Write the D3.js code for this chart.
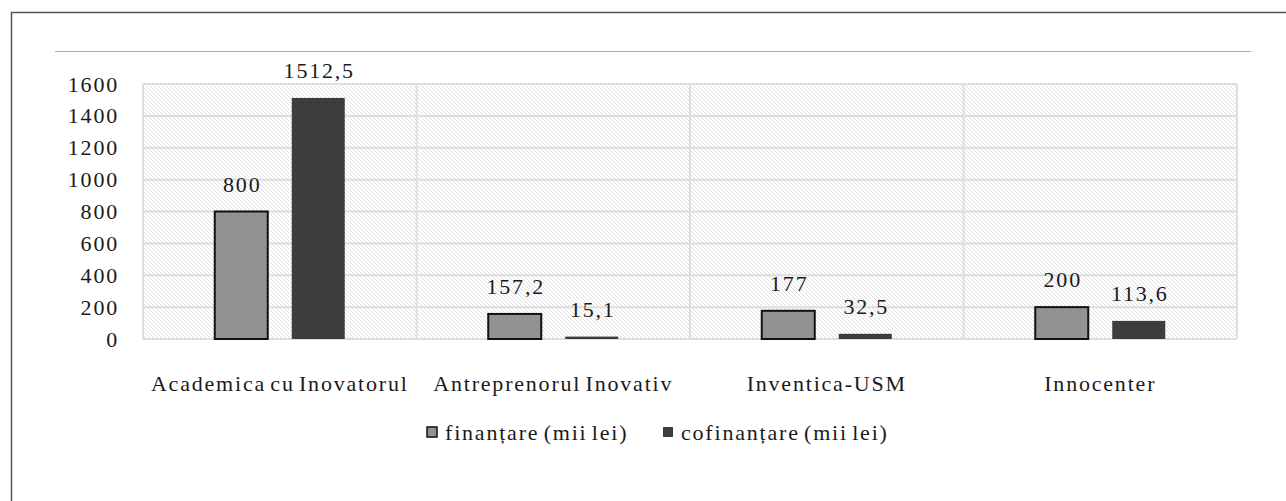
<!DOCTYPE html>
<meta charset="utf-8">
<head>
<style type='text/css'>
  body {
    margin: 0;
    background: #fff;
  }
  text {
    font-family: 'Liberation Serif', 'DejaVu Serif', serif;
    fill: #1a1a1a;
    letter-spacing: 1.8px;
    word-spacing: -3px;
  }
  .grid line {
    stroke: #dedede;
    stroke-width: 2;
  }
  .axis .domain, .axis line {
    display: none;
  }
</style>
</head>
<body>
<svg id="chart" width="1286" height="501"></svg>
<script src="https://d3js.org/d3.v7.min.js"></script>
<script>
// chart data
var categories = ["Academica cu Inovatorul", "Antreprenorul Inovativ", "Inventica-USM", "Innocenter"];
var finantare = [800, 157.2, 177, 200];
var cofinantare = [1512.5, 15.1, 32.5, 113.6];
var seriesNames = ["finanțare (mii lei)", "cofinanțare (mii lei)"];
var yTicks = [0, 200, 400, 600, 800, 1000, 1200, 1400, 1600];

var svg = d3.select("#chart");

// plot area
var plotL = 143, plotR = 1237, plotT = 84, plotB = 339;

var x = d3.scaleBand()
    .domain(categories)
    .range([plotL, plotR]);

var y = d3.scaleLinear()
    .domain([0, 1600])
    .range([plotB, plotT]);

var colors = ["#929292", "#3d3d3d"];
var barW = 53, gap = 24;

// hatch pattern for plot background
var defs = svg.append("defs");
var pat = defs.append("pattern")
    .attr("id", "hatch")
    .attr("patternUnits", "userSpaceOnUse")
    .attr("width", 4)
    .attr("height", 4);
pat.append("rect").attr("width", 4).attr("height", 4).attr("fill", "#fff");
pat.append("path")
    .attr("d", "M-1,-1 L5,5 M-1,3 L1,5 M3,-1 L5,1")
    .attr("stroke", "#dfdfdf")
    .attr("stroke-width", 1);

// outer frame
svg.append("rect")
    .attr("x", 11.5).attr("y", 12.5)
    .attr("width", 1300).attr("height", 520)
    .attr("fill", "none")
    .attr("stroke", "#555")
    .attr("stroke-width", 1.5);

// thin line near top
svg.append("line")
    .attr("x1", 55).attr("x2", 1251)
    .attr("y1", 51.5).attr("y2", 51.5)
    .attr("stroke", "#aaa")
    .attr("stroke-width", 1);

svg.append("rect")
    .attr("x", plotL).attr("y", plotT)
    .attr("width", plotR - plotL).attr("height", plotB - plotT)
    .attr("fill", "url(#hatch)");

// horizontal grid
svg.append("g")
    .attr("class", "grid")
  .selectAll("line")
  .data(yTicks)
  .enter().append("line")
    .attr("x1", plotL).attr("x2", plotR)
    .attr("y1", function(d) { return y(d); })
    .attr("y2", function(d) { return y(d); });

// vertical separators between categories
svg.append("g")
    .attr("class", "grid")
  .selectAll("line")
  .data(categories.concat(["end"]))
  .enter().append("line")
    .attr("x1", function(d, i) { return plotL + i * x.bandwidth(); })
    .attr("x2", function(d, i) { return plotL + i * x.bandwidth(); })
    .attr("y1", plotT).attr("y2", plotB);

// y axis
svg.append("g")
    .attr("class", "axis")
    .attr("transform", "translate(" + (plotL - 12) + ",0)")
    .call(d3.axisLeft(y).tickValues(yTicks).tickSize(0).tickPadding(12).tickFormat(d3.format("d")))
    .selectAll("text")
      .style("font-size", "22px")
      .attr("font-family", null)
      .attr("fill", "#1a1a1a");

// x axis labels
svg.append("g")
    .attr("class", "axis")
    .attr("transform", "translate(0," + plotB + ")")
    .call(d3.axisBottom(x).tickSize(0).tickPadding(36))
    .selectAll("text")
      .style("font-size", "22px")
      .attr("font-family", null)
      .attr("fill", "#1a1a1a");

var fmt = function(v) { return String(v).replace(".", ","); };
var series = [finantare, cofinantare];

series.forEach(function(vals, s) {
  var g = svg.append("g");
  var off = s === 0 ? -(gap / 2 + barW) : gap / 2;

  g.selectAll("rect")
    .data(vals)
    .enter().append("rect")
      .attr("x", function(d, i) { return x(categories[i]) + x.bandwidth() / 2 + off; })
      .attr("y", function(d) { return y(d); })
      .attr("width", barW)
      .attr("height", function(d) { return plotB - y(d); })
      .attr("fill", colors[s])
      .attr("stroke", s === 0 ? "#111" : "none")
      .attr("stroke-width", 2);

  g.selectAll("text")
    .data(vals)
    .enter().append("text")
      .attr("x", function(d, i) { return x(categories[i]) + x.bandwidth() / 2 + off + barW / 2 + 1; })
      .attr("y", function(d) { return y(d) - 20; })
      .attr("text-anchor", "middle")
      .style("font-size", "22px")
      .text(function(d) { return fmt(d); });
});

// legend
var legendX = [427, 663];
var legend = svg.append("g")
  .selectAll("g")
  .data(seriesNames)
  .enter().append("g")
    .attr("transform", function(d, i) { return "translate(" + legendX[i] + ",427)"; });

legend.append("rect")
    .attr("width", 10).attr("height", 10)
    .attr("fill", function(d, i) { return colors[i]; })
    .attr("stroke", function(d, i) { return i === 0 ? "#111" : "none"; })
    .attr("stroke-width", 1.5);

legend.append("text")
    .attr("x", 18)
    .attr("y", 13)
    .style("font-size", "22px")
    .text(function(d) { return d; });
</script>
</body>
